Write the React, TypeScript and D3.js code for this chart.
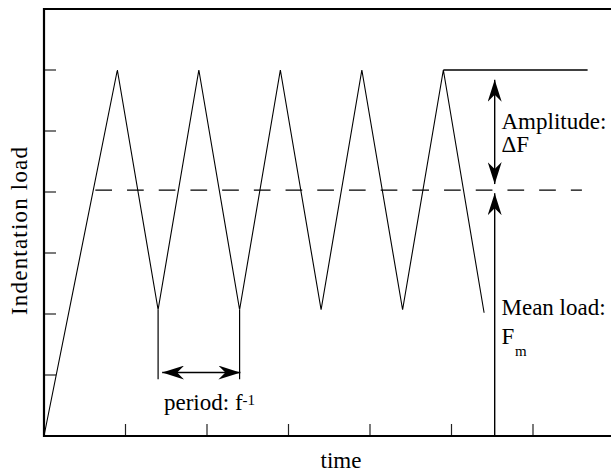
import React from "react";
import * as d3 from "d3";

// Triangular load-time waveform (time in periods, load in arbitrary units)
const waveTime = [0, 0.9, 1.4, 1.9, 2.4, 2.9, 3.4, 3.9, 4.4, 4.9, 5.4];
const waveLoad = [0, 6, 2.07, 6, 2.07, 6, 2.07, 6, 2.07, 6, 2.02];

const xTicks = [1, 2, 3, 4, 5, 6];
const yTicks = [1, 2, 3, 4, 5, 6];

const meanLoad = 4.03;
const meanLineSpan = [0.63, 6.6];
const peakLoad = 6;
const peakLineSpan = [4.9, 6.67];

// Annotation anchors (time, load)
const periodMarkTimes = [1.4, 2.4];
const periodMarkBottom = 0.93;
const periodArrowLoad = 1.04;
const periodArrowSpan = [1.45, 2.41];
const annotTime = 5.53;
const amplitudeSpan = [5.84, 4.13];
const meanArrowSpan = [0, 3.98];

const W = 611;
const H = 474;
const FONT = "'Liberation Serif', 'Times New Roman', serif";

export default function App() {
  const x = d3.scaleLinear().domain([0, 7]).range([44, 44 + 7 * 81.5]);
  const y = d3.scaleLinear().domain([0, 7]).range([436, 9]);

  const pts: [number, number][] = waveTime.map((t, i) => [t, waveLoad[i]]);
  const line = d3
    .line<[number, number]>()
    .x((d) => x(d[0]))
    .y((d) => y(d[1]));

  const left = x(0);
  const bottom = y(0);
  const top = y(7);
  const txt = { fontFamily: FONT, fontSize: 23, fill: "#000" } as React.CSSProperties;

  return (
    <svg
      width={W}
      height={H}
      style={{ position: "absolute", left: 0, top: 0, background: "#fff" }}
    >
      <defs>
        <marker
          id="head"
          viewBox="0 0 22 14"
          refX={22}
          refY={7}
          markerWidth={22}
          markerHeight={14}
          markerUnits="userSpaceOnUse"
          orient="auto-start-reverse"
        >
          <path d="M0,0 L22,7 L0,14 L7,7 Z" fill="#000" />
        </marker>
      </defs>
      <rect x={0} y={0} width={W} height={H} fill="#fff" />

      {/* ticks */}
      {yTicks.map((v) => (
        <line key={"yt" + v} x1={left} x2={left + 12} y1={y(v)} y2={y(v)} stroke="#222" strokeWidth={1.2} />
      ))}
      {xTicks.map((v) => (
        <line key={"xt" + v} x1={x(v)} x2={x(v)} y1={bottom} y2={bottom - 12} stroke="#222" strokeWidth={1.2} />
      ))}

      {/* frame */}
      <line x1={left} x2={W} y1={top} y2={top} stroke="#000" strokeWidth={2.2} />
      <line x1={left} x2={W} y1={bottom} y2={bottom} stroke="#000" strokeWidth={2.2} />
      <line x1={left} x2={left} y1={top - 1} y2={bottom + 1} stroke="#000" strokeWidth={2.2} />

      {/* mean load */}
      <line
        x1={x(meanLineSpan[0])}
        x2={x(meanLineSpan[1])}
        y1={y(meanLoad)}
        y2={y(meanLoad)}
        stroke="#000"
        strokeWidth={1.3}
        strokeDasharray="16.7,15"
      />
      {/* peak level */}
      <line
        x1={x(peakLineSpan[0])}
        x2={x(peakLineSpan[1])}
        y1={y(peakLoad)}
        y2={y(peakLoad)}
        stroke="#000"
        strokeWidth={1.3}
      />

      {/* waveform */}
      <path d={line(pts) || ""} fill="none" stroke="#000" strokeWidth={1.1} strokeLinejoin="miter" />

      {/* period markers */}
      {periodMarkTimes.map((t) => (
        <line key={"pm" + t} x1={x(t)} x2={x(t)} y1={y(2.07)} y2={y(periodMarkBottom)} stroke="#000" strokeWidth={1.2} />
      ))}
      <line
        x1={x(periodArrowSpan[0])}
        x2={x(periodArrowSpan[1])}
        y1={y(periodArrowLoad)}
        y2={y(periodArrowLoad)}
        stroke="#000"
        strokeWidth={1.4}
        markerStart="url(#head)"
        markerEnd="url(#head)"
      />

      {/* amplitude arrow */}
      <line
        x1={x(annotTime)}
        x2={x(annotTime)}
        y1={y(amplitudeSpan[0])}
        y2={y(amplitudeSpan[1])}
        stroke="#000"
        strokeWidth={1.4}
        markerStart="url(#head)"
        markerEnd="url(#head)"
      />
      {/* mean load arrow */}
      <line
        x1={x(annotTime)}
        x2={x(annotTime)}
        y1={y(meanArrowSpan[0])}
        y2={y(meanArrowSpan[1])}
        stroke="#000"
        strokeWidth={1.4}
        markerEnd="url(#head)"
      />

      {/* labels */}
      <text style={txt} x={501.5} y={129}>Amplitude:</text>
      <text style={txt} x={501.5} y={152}>ΔF</text>
      <text style={txt} x={501.5} y={315}>Mean load:</text>
      <text style={txt} x={501.5} y={344}>F</text>
      <text style={{ ...txt, fontSize: 15 }} x={515} y={356}>m</text>
      <text style={txt} x={164} y={410}>
        period: f
        <tspan style={{ fontSize: 15 }} dy={-5}>-1</tspan>
      </text>
      <text style={txt} x={341} y={468} textAnchor="middle">time</text>
      <text
        style={txt}
        transform="translate(27,231) rotate(-90)"
        textAnchor="middle"
        textLength={168}
        lengthAdjust="spacing"
      >
        Indentation load
      </text>
    </svg>
  );
}
